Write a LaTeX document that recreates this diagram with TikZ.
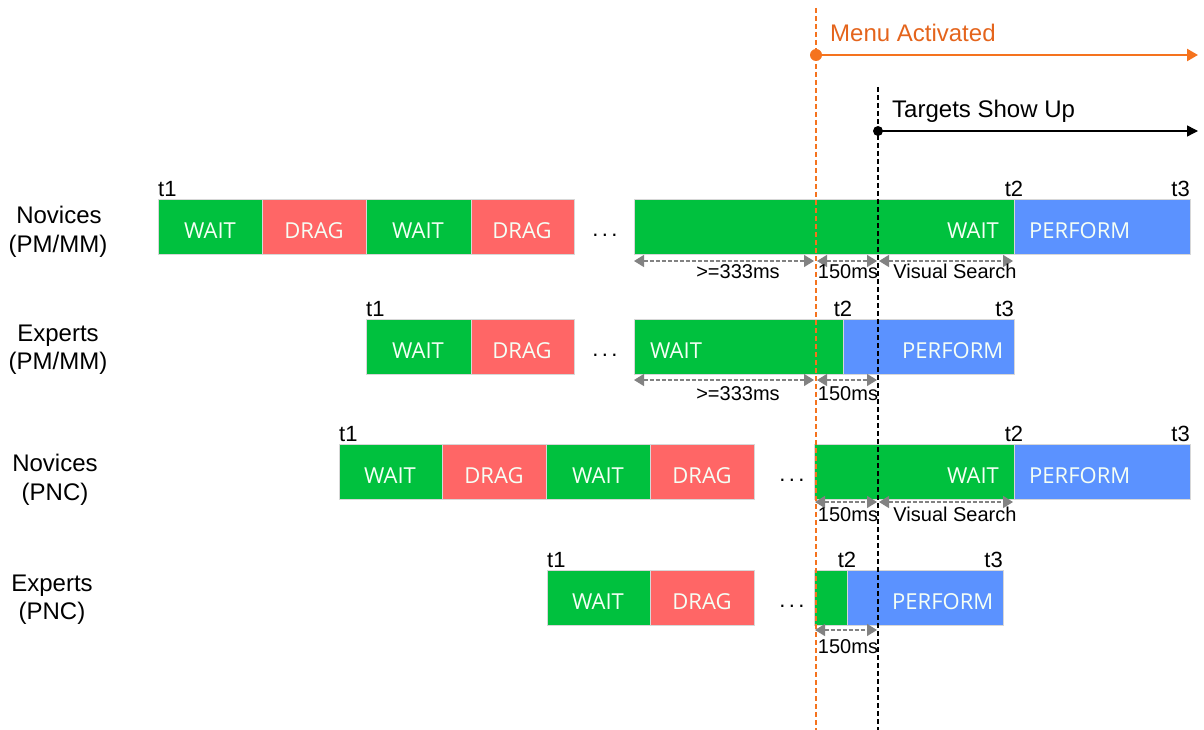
\documentclass[tikz,border=0pt]{standalone}
\usepackage{fontspec}
\setmainfont{Liberation Sans}
\newfontfamily\boxfont{Open Sans}
\usetikzlibrary{arrows.meta}
\definecolor{cgreen}{RGB}{0,193,62}
\definecolor{cred}{RGB}{255,102,102}
\definecolor{cblue}{RGB}{91,146,255}
\definecolor{corange}{RGB}{245,115,30}
\definecolor{ctext}{RGB}{228,100,28}
\definecolor{cgray}{RGB}{130,130,130}
\definecolor{cedge}{RGB}{215,215,215}
\definecolor{ctxtw}{RGB}{245,255,245}
\newcommand{\mydots}{.\kern3.4pt.\kern3.4pt.}
\begin{document}
\begin{tikzpicture}[x=1pt,y=-1pt,
  seg/.style={draw=cedge, line width=0.8pt, inner sep=0pt, outer sep=0pt, anchor=north west, minimum height=55pt},
  wait/.style={seg, fill=cgreen},
  drag/.style={seg, fill=cred},
  perf/.style={seg, fill=cblue},
  btext/.style={text=ctxtw, font=\boxfont\fontsize{22}{22}\selectfont, inner sep=0pt, anchor=base},
  tlab/.style={font=\fontsize{22}{22}\selectfont, inner sep=0pt},
  rowlab/.style={font=\fontsize{24}{24}\selectfont, inner sep=0pt, anchor=base},
  dots/.style={font=\fontsize{22}{22}\selectfont, inner sep=0pt, anchor=base},
  dim/.style={cgray, line width=1.4pt, dash pattern=on 4pt off 2pt, {Triangle[width=12pt,length=10pt]}-{Triangle[width=12pt,length=10pt]}},
  dimlab/.style={font=\fontsize{20}{20}\selectfont, inner sep=0pt, anchor=base},
]
\useasboundingbox (0,0) rectangle (1204,730);

% ---------------- Row 1: Novices (PM/MM)
\node[rowlab] (r1a) at (59,223) {Novices};
\node[rowlab] (r1b) at (58,252) {(PM/MM)};
\node[wait, minimum width=104pt] (r1w1) at (158,199) {};
\node[drag, minimum width=104pt] (r1d1) at (262,199) {};
\node[wait, minimum width=105pt] (r1w2) at (366,199) {};
\node[drag, minimum width=103pt] (r1d2) at (471,199) {};
\node[btext] (r1w1t) at (210,238) {WAIT};
\node[btext] (r1d1t) at (314,238) {DRAG};
\node[btext] (r1w2t) at (418,238) {WAIT};
\node[btext] (r1d2t) at (522,238) {DRAG};
\node[dots] (r1dots) at (605,236) {\mydots};
\node[wait, minimum width=380pt] (r1w3) at (634,199) {};
\node[perf, minimum width=176pt] (r1p) at (1014,199) {};
\node[btext, anchor=base east] (r1w3t) at (999,238) {WAIT};
\node[btext, anchor=base west] (r1pt) at (1029,238) {PERFORM};
\node[tlab, anchor=south west] (r1t1) at ([yshift=2pt]r1w1.north west) {t1};
\node[tlab, anchor=south] (r1t2) at ([yshift=2pt]r1p.north west) {t2};
\node[tlab, anchor=south east] (r1t3) at ([yshift=2pt]r1p.north east) {t3};

% ---------------- Row 2: Experts (PM/MM)
\node[rowlab] (r2a) at (58,341) {Experts};
\node[rowlab] (r2b) at (58,369) {(PM/MM)};
\node[wait, minimum width=105pt] (r2w1) at (366,319) {};
\node[drag, minimum width=103pt] (r2d1) at (471,319) {};
\node[btext] (r2w1t) at (418,358) {WAIT};
\node[btext] (r2d1t) at (522,358) {DRAG};
\node[dots] (r2dots) at (605,356) {\mydots};
\node[wait, minimum width=209pt] (r2w2) at (634,319) {};
\node[perf, minimum width=171pt] (r2p) at (843,319) {};
\node[btext, anchor=base west] (r2w2t) at (650,358) {WAIT};
\node[btext, anchor=base west] (r2pt) at (902,358) {PERFORM};
\node[tlab, anchor=south west] (r2t1) at ([yshift=2pt]r2w1.north west) {t1};
\node[tlab, anchor=south] (r2t2) at ([yshift=2pt]r2p.north west) {t2};
\node[tlab, anchor=south east] (r2t3) at ([yshift=2pt]r2p.north east) {t3};

% ---------------- Row 3: Novices (PNC)
\node[rowlab] (r3a) at (55,471) {Novices};
\node[rowlab] (r3b) at (55,500) {(PNC)};
\node[wait, minimum width=103pt] (r3w1) at (339,444) {};
\node[drag, minimum width=104pt] (r3d1) at (442,444) {};
\node[wait, minimum width=104pt] (r3w2) at (546,444) {};
\node[drag, minimum width=104pt] (r3d2) at (650,444) {};
\node[btext] (r3w1t) at (390,483) {WAIT};
\node[btext] (r3d1t) at (494,483) {DRAG};
\node[btext] (r3w2t) at (598,483) {WAIT};
\node[btext] (r3d2t) at (702,483) {DRAG};
\node[dots] (r3dots) at (792,481) {\mydots};
\node[wait, minimum width=200pt] (r3w3) at (814,444) {};
\node[perf, minimum width=176pt] (r3p) at (1014,444) {};
\node[btext, anchor=base east] (r3w3t) at (999,483) {WAIT};
\node[btext, anchor=base west] (r3pt) at (1029,483) {PERFORM};
\node[tlab, anchor=south west] (r3t1) at ([yshift=2pt]r3w1.north west) {t1};
\node[tlab, anchor=south] (r3t2) at ([yshift=2pt]r3p.north west) {t2};
\node[tlab, anchor=south east] (r3t3) at ([yshift=2pt]r3p.north east) {t3};

% ---------------- Row 4: Experts (PNC)
\node[rowlab] (r4a) at (52,591) {Experts};
\node[rowlab] (r4b) at (52,619) {(PNC)};
\node[wait, minimum width=103pt] (r4w1) at (547,570) {};
\node[drag, minimum width=104pt] (r4d1) at (650,570) {};
\node[btext] (r4w1t) at (598,609) {WAIT};
\node[btext] (r4d1t) at (702,609) {DRAG};
\node[dots] (r4dots) at (792,607) {\mydots};
\node[wait, minimum width=33pt] (r4w2) at (814,570) {};
\node[perf, minimum width=156pt] (r4p) at (847,570) {};
\node[btext, anchor=base west] (r4pt) at (892,609) {PERFORM};
\node[tlab, anchor=south west] (r4t1) at ([yshift=2pt]r4w1.north west) {t1};
\node[tlab, anchor=south] (r4t2) at ([yshift=2pt]r4p.north west) {t2};
\node[tlab, anchor=south east] (r4t3) at ([yshift=2pt]r4p.north east) {t3};

% ---------------- Vertical time markers
\coordinate (oTop) at (816,8);
\coordinate (oBot) at (816,730);
\coordinate (oDot) at (816,55);
\coordinate (oEnd) at (1198,55);
\coordinate (kTop) at (878,87);
\coordinate (kBot) at (878,730);
\coordinate (kDot) at (878,131);
\coordinate (kEnd) at (1198,131);

\draw[corange, line width=1.6pt, dash pattern=on 5pt off 3pt] (oTop) -- (oBot);
\draw[black, line width=1.4pt, dash pattern=on 5pt off 3pt] (kTop) -- (kBot);
\draw[corange, line width=2.4pt, -{Triangle[width=12pt,length=11pt]}] (oDot) -- (oEnd);
\fill[corange] (oDot) circle (6pt);
\draw[black, line width=1.4pt, -{Triangle[width=11pt,length=11pt]}] (kDot) -- (kEnd);
\fill[black] (kDot) circle (5pt);
\node[text=ctext, font=\fontsize{24}{24}\selectfont, anchor=base west, inner sep=0pt] (menu) at (830,42) {Menu Activated};
\node[font=\fontsize{24}{24}\selectfont, anchor=base west, inner sep=0pt] (targets) at (892,118) {Targets Show Up};

% ---------------- Dimension arrows
\coordinate (d1a) at (634,261);
\coordinate (d1b) at (814,261);
\coordinate (d1c) at (817,261);
\coordinate (d1d) at (877,261);
\coordinate (d1e) at (879,261);
\coordinate (d1f) at (1013,261);
\draw[dim] (d1a) -- (d1b);
\draw[dim] (d1c) -- (d1d);
\draw[dim] (d1e) -- (d1f);
\node[dimlab] (l1a) at (738,278) {>=333ms};
\node[dimlab] (l1b) at (848,278) {150ms};
\node[dimlab] (l1c) at (955,278) {Visual Search};

\coordinate (d2a) at (634,380);
\coordinate (d2b) at (814,380);
\coordinate (d2c) at (817,380);
\coordinate (d2d) at (877,380);
\draw[dim] (d2a) -- (d2b);
\draw[dim] (d2c) -- (d2d);
\node[dimlab] (l2a) at (738,400) {>=333ms};
\node[dimlab] (l2b) at (848,400) {150ms};

\coordinate (d3c) at (815,502);
\coordinate (d3d) at (877,502);
\coordinate (d3e) at (879,502);
\coordinate (d3f) at (1013,502);
\draw[dim] (d3c) -- (d3d);
\draw[dim] (d3e) -- (d3f);
\node[dimlab] (l3b) at (848,521) {150ms};
\node[dimlab] (l3c) at (955,521) {Visual Search};

\coordinate (d4c) at (815,630);
\coordinate (d4d) at (877,630);
\draw[dim] (d4c) -- (d4d);
\node[dimlab] (l4b) at (848,653) {150ms};
\end{tikzpicture}
\end{document}
